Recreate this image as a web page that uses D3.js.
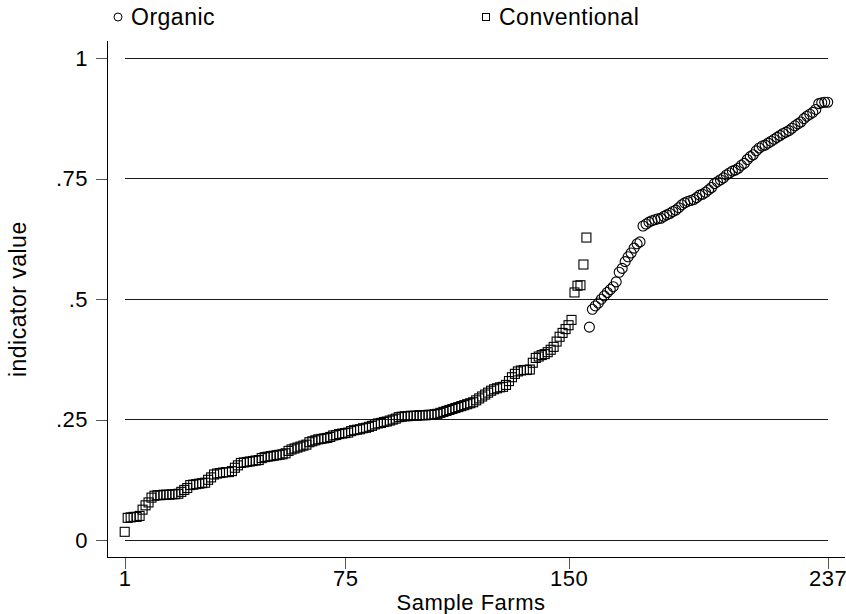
<!DOCTYPE html>
<html>
<head>
<meta charset="utf-8">
<script src="https://cdn.jsdelivr.net/npm/d3@7"></script>
<style>
  body { margin: 0; background: #fff; }
  text { font-family: Arial, "Liberation Sans", sans-serif; fill: #000; letter-spacing: 0.5px; }
</style>
</head>
<body>
<script>
'use strict'

// indicator values, sorted within group; farms 1..156 conventional, 157..237 organic
const conventional = [
  0.017, 0.046, 0.047, 0.048, 0.048, 0.050, 0.063, 0.072, 0.078, 0.088,
  0.092, 0.093, 0.093, 0.094, 0.094, 0.094, 0.095, 0.095, 0.096, 0.100,
  0.104, 0.108, 0.114, 0.115, 0.116, 0.117, 0.118, 0.119, 0.125, 0.130,
  0.136, 0.138, 0.139, 0.140, 0.141, 0.141, 0.143, 0.150, 0.155, 0.160,
  0.161, 0.162, 0.163, 0.164, 0.165, 0.166, 0.170, 0.172, 0.173, 0.174,
  0.175, 0.176, 0.177, 0.178, 0.180, 0.185, 0.188, 0.190, 0.192, 0.194,
  0.196, 0.198, 0.203, 0.205, 0.207, 0.209, 0.210, 0.211, 0.212, 0.214,
  0.217, 0.218, 0.220, 0.221, 0.222, 0.223, 0.226, 0.228, 0.229, 0.230,
  0.232, 0.233, 0.235, 0.237, 0.240, 0.242, 0.243, 0.245, 0.246, 0.248,
  0.250, 0.252, 0.255, 0.256, 0.257, 0.257, 0.258, 0.258, 0.258, 0.259,
  0.259, 0.259, 0.260, 0.260, 0.261, 0.262, 0.264, 0.266, 0.268, 0.270,
  0.272, 0.274, 0.276, 0.278, 0.280, 0.282, 0.284, 0.286, 0.290, 0.294,
  0.298, 0.302, 0.306, 0.310, 0.313, 0.315, 0.317, 0.318, 0.322, 0.330,
  0.338, 0.345, 0.350, 0.352, 0.353, 0.353, 0.354, 0.368, 0.378, 0.381,
  0.384, 0.386, 0.390, 0.395, 0.401, 0.412, 0.422, 0.430, 0.438, 0.446,
  0.457, 0.514, 0.528, 0.529, 0.572, 0.628
]

const organic = [
  0.442, 0.479, 0.486, 0.492, 0.500, 0.507, 0.514, 0.520, 0.526, 0.536,
  0.556, 0.564, 0.578, 0.588, 0.596, 0.606, 0.615, 0.619, 0.652, 0.656,
  0.660, 0.663, 0.665, 0.667, 0.668, 0.672, 0.675, 0.678, 0.682, 0.685,
  0.690, 0.696, 0.700, 0.703, 0.705, 0.707, 0.711, 0.716, 0.718, 0.722,
  0.727, 0.732, 0.740, 0.744, 0.748, 0.752, 0.758, 0.762, 0.766, 0.768,
  0.772, 0.778, 0.782, 0.790, 0.796, 0.800, 0.808, 0.814, 0.818, 0.820,
  0.824, 0.828, 0.832, 0.836, 0.840, 0.844, 0.847, 0.850, 0.855, 0.860,
  0.864, 0.868, 0.875, 0.880, 0.884, 0.888, 0.894, 0.906, 0.908, 0.909,
  0.909
]

const xTicks = [1, 75, 150, 237]
const yTicks = [0, 0.25, 0.5, 0.75, 1]
const yTickLabels = ['0', '.25', '.5', '.75', '1']

const width = 846
const height = 614
const fontSize = 22
const fontFamily = 'Arial, "Liberation Sans", sans-serif'

const convPts = conventional.map((v, i) => ({ farm: i + 1, v }))
const orgPts = organic.map((v, i) => ({ farm: conventional.length + i + 1, v }))

const x = d3.scaleLinear().domain([1, 237]).range([124.7, 827.7])
const y = d3.scaleLinear().domain([0, 1]).range([540, 58.4])

// plot region extends a bit past the data range
const pad = 17.7
const plotLeft = x.range()[0] - pad
const plotRight = x.range()[1] + pad
const plotTop = y.range()[1] - pad
const plotBottom = y.range()[0] + pad

const svg = d3.select('body').append('svg')
  .attr('width', width)
  .attr('height', height)

// gridlines
svg.append('g')
  .selectAll('line')
  .data(yTicks)
  .enter().append('line')
    .attr('x1', x(1))
    .attr('x2', x(237))
    .attr('y1', d => y(d))
    .attr('y2', d => y(d))
    .attr('stroke', '#1a1a1a')
    .attr('stroke-width', 1)
    .attr('shape-rendering', 'crispEdges')

// y axis
const yAxis = d3.axisLeft(y)
  .tickValues(yTicks)
  .tickFormat((d, i) => yTickLabels[i])
  .tickSize(11)
  .tickPadding(8)

svg.append('g')
    .attr('class', 'y axis')
    .attr('transform', 'translate(' + plotLeft + ',0)')
    .call(yAxis)
    .call(g => g.select('.domain').remove())
    .call(g => g.selectAll('.tick line').attr('stroke', '#555').attr('shape-rendering', 'crispEdges'))
    .call(g => g.selectAll('.tick text').attr('font-size', fontSize).attr('font-family', fontFamily).attr('fill', '#000'))

// x axis
const xAxis = d3.axisBottom(x)
  .tickValues(xTicks)
  .tickFormat(d3.format('d'))
  .tickSize(11)
  .tickPadding(2)

svg.append('g')
    .attr('class', 'x axis')
    .attr('transform', 'translate(0,' + plotBottom + ')')
    .call(xAxis)
    .call(g => g.select('.domain').remove())
    .call(g => g.selectAll('.tick line').attr('stroke', '#555').attr('shape-rendering', 'crispEdges'))
    .call(g => g.selectAll('.tick text').attr('font-size', fontSize).attr('font-family', fontFamily).attr('fill', '#000'))

// axis lines
svg.append('line')
  .attr('x1', plotLeft).attr('x2', plotLeft)
  .attr('y1', plotTop).attr('y2', plotBottom)
  .attr('stroke', '#000').attr('shape-rendering', 'crispEdges')

svg.append('line')
  .attr('x1', plotLeft).attr('x2', plotRight)
  .attr('y1', plotBottom).attr('y2', plotBottom)
  .attr('stroke', '#000').attr('shape-rendering', 'crispEdges')

// markers
const sq = 9
svg.append('g')
  .selectAll('rect')
  .data(convPts)
  .enter().append('rect')
    .attr('x', d => x(d.farm) - sq / 2)
    .attr('y', d => y(d.v) - sq / 2)
    .attr('width', sq)
    .attr('height', sq)
    .attr('fill', 'none')
    .attr('stroke', '#000')
    .attr('stroke-width', 1.1)

svg.append('g')
  .selectAll('circle')
  .data(orgPts)
  .enter().append('circle')
    .attr('cx', d => x(d.farm))
    .attr('cy', d => y(d.v))
    .attr('r', 5)
    .attr('fill', 'none')
    .attr('stroke', '#000')
    .attr('stroke-width', 1.1)

// axis titles
svg.append('text')
  .attr('x', 471)
  .attr('y', 610)
  .attr('text-anchor', 'middle')
  .attr('font-size', fontSize)
  .text('Sample Farms')

svg.append('text')
  .attr('transform', 'translate(26,' + y(0.5) + ') rotate(-90)')
  .attr('text-anchor', 'middle')
  .attr('font-size', 23)
  .text('indicator value')

// legend
const legend = svg.append('g').attr('class', 'legend')

legend.append('circle')
  .attr('cx', 118).attr('cy', 17).attr('r', 4)
  .attr('fill', 'none').attr('stroke', '#000')

legend.append('text')
  .attr('x', 131).attr('y', 25)
  .attr('font-size', 23)
  .text('Organic')

legend.append('rect')
  .attr('x', 482.5).attr('y', 13.5).attr('width', 7).attr('height', 7)
  .attr('fill', 'none').attr('stroke', '#000')

legend.append('text')
  .attr('x', 499).attr('y', 25)
  .attr('font-size', 23)
  .text('Conventional')
</script>
</body>
</html>
